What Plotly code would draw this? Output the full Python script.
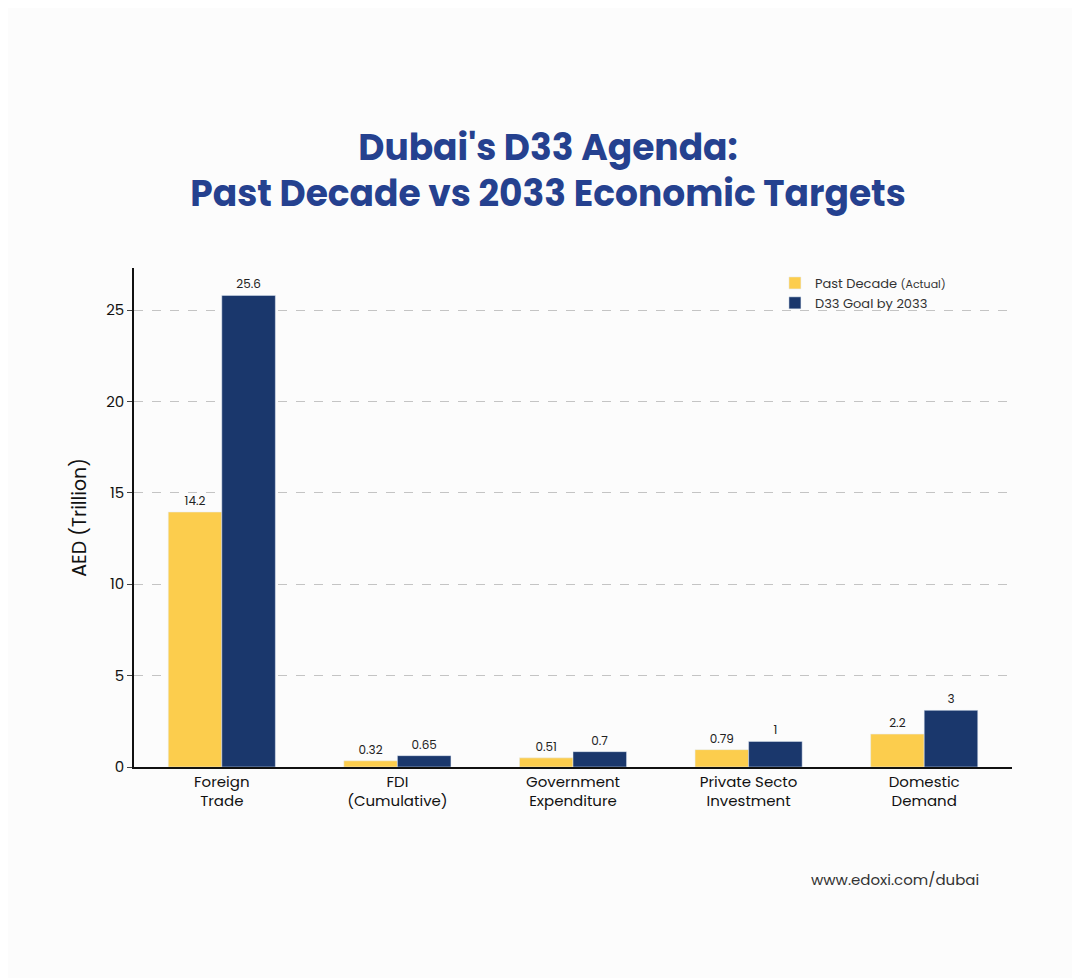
import plotly.graph_objects as go

categories = ["Foreign<br>Trade", "FDI<br>(Cumulative)", "Government<br>Expenditure",
              "Private Secto<br>Investment", "Domestic<br>Demand"]
past_heights = [13.95, 0.34, 0.5, 0.95, 1.8]
goal_heights = [25.8, 0.62, 0.84, 1.4, 3.1]
past_labels = ["14.2", "0.32", "0.51", "0.79", "2.2"]
goal_labels = ["25.6", "0.65", "0.7", "1", "3"]

font = "Poppins, Inter, Lato, sans-serif"

fig = go.Figure()
fig.add_trace(go.Bar(x=categories, y=past_heights, name="Past Decade <span style='font-size:11px'>(Actual)</span>",
                     marker_color="#fccd4d", text=past_labels, textposition="outside",
                     textfont=dict(size=12, color="#222")))
fig.add_trace(go.Bar(x=categories, y=goal_heights, name="D33 Goal by 2033",
                     marker_color="#1a376c", text=goal_labels, textposition="outside",
                     textfont=dict(size=12, color="#222")))

fig.update_layout(
    width=1080, height=978,
    paper_bgcolor="#fcfcfc", plot_bgcolor="#fcfcfc",
    font=dict(family=font, color="#222"),
    title=dict(text="<b>Dubai's D33 Agenda:<br>Past Decade vs 2033 Economic Targets</b>",
               x=0.5, xanchor="center", y=0.845, yanchor="middle",
               font=dict(size=36, color="#25418f")),
    margin=dict(l=126, r=76, t=260, b=219),
    barmode="group", bargap=0.39, bargroupgap=0,
    legend=dict(x=0.73, y=1.0, xanchor="left", yanchor="top", bgcolor="rgba(0,0,0,0)",
                font=dict(size=13, color="#333"), tracegroupgap=0),
    xaxis=dict(showline=True, linecolor="#111", linewidth=1.5, ticks="",
               tickfont=dict(size=15, color="#111")),
    yaxis=dict(range=[0, 27.3], dtick=5, showgrid=True, gridcolor="#c4c4c4", griddash="dash",
               showline=True, linecolor="#111", linewidth=1.5, ticks="outside", ticklen=5,
               tickfont=dict(size=15, color="#111"), zeroline=False,
               title=dict(text="AED (Trillion)", font=dict(size=19, color="#111"))),
    annotations=[dict(text="www.edoxi.com/dubai", xref="paper", yref="paper",
                      x=1.0 - 0.035, y=-0.25, xanchor="right", showarrow=False,
                      font=dict(size=15, color="#333"))],
)
fig.update_traces(cliponaxis=False)

fig.write_html("out.html")
